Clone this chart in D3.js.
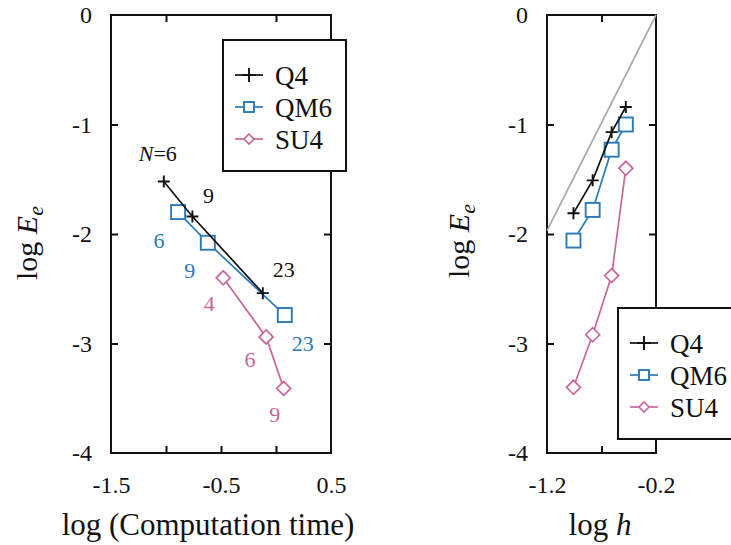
<!DOCTYPE html>
<html>
<head>
<meta charset="utf-8">
<script src="https://cdn.jsdelivr.net/npm/d3@7"></script>
<style>
  html, body { margin: 0; padding: 0; background: #fff; }
  svg { display: block; }
  svg text { font-family: "Liberation Serif", "DejaVu Serif", serif; }
</style>
</head>
<body>
<script>
// ---------------- DATA ----------------
const seriesNames = ["Q4", "QM6", "SU4"];

// Left panel: log (Computation time) vs log Ee
const timeQ4  = [-1.02, -0.76, -0.12];
const errQ4L  = [-1.52, -1.84, -2.54];
const nQ4     = ["6", "9", "23"];
const timeQM6 = [-0.89, -0.62, 0.08];
const errQM6L = [-1.80, -2.08, -2.74];
const nQM6    = ["6", "9", "23"];
const timeSU4 = [-0.48, -0.09, 0.07];
const errSU4L = [-2.40, -2.94, -3.41];
const nSU4    = ["4", "6", "9"];

// Right panel: log h vs log Ee
const logH    = [-0.477, -0.607, -0.781, -0.957];
const errQ4R  = [-0.84, -1.07, -1.51, -1.81];
const errQM6R = [-1.00, -1.23, -1.78, -2.06];
const errSU4R = [-1.40, -2.38, -2.92, -3.40];
const refX    = [-1.2, -0.2];
const refY    = [-1.97, 0.0];

// Axis ticks
const leftXLabels  = [-1.5, -0.5, 0.5];
const leftXMarksB  = [-1, -0.5, 0];
const leftXMarksT  = [-1, 0];
const rightXLabels = [-1.2, -0.2];
const rightXMarks  = [-0.7];
const yLabels      = [0, -1, -2, -3, -4];
const yMarks       = [-1, -2, -3];

// ---------------- STYLE ----------------
const FONT = "Liberation Serif, DejaVu Serif, serif";
const colors = { Q4: "#111111", QM6: "#2a7ab8", SU4: "#c9669c" };

const W = 731, H = 545;
const svg = d3.select("body").append("svg").attr("width", W).attr("height", H);
svg.append("rect").attr("width", W).attr("height", H).attr("fill", "#fff");

const plotTop = 15, plotBottom = 453;
const y = d3.scaleLinear().domain([-4, 0]).range([plotBottom, plotTop]);
const xL = d3.scaleLinear().domain([-1.5, 0.5]).range([111, 331]);
const xR = d3.scaleLinear().domain([-1.2, -0.2]).range([547, 656]);

function marker(g, type, cx, cy, s, color) {
  if (type === "Q4") {
    g.append("path").attr("d", `M${cx - s},${cy}H${cx + s}M${cx},${cy - s}V${cy + s}`)
      .attr("stroke", color).attr("stroke-width", 1.9).attr("fill", "none");
  } else if (type === "QM6") {
    g.append("rect").attr("x", cx - s).attr("y", cy - s).attr("width", 2 * s).attr("height", 2 * s)
      .attr("fill", "#fff").attr("stroke", color).attr("stroke-width", 1.9);
  } else {
    g.append("path").attr("d", `M${cx},${cy - s}L${cx + s},${cy}L${cx},${cy + s}L${cx - s},${cy}Z`)
      .attr("fill", "#fff").attr("stroke", color).attr("stroke-width", 1.7);
  }
}

function axes(x, xLabels, marksB, marksT) {
  const [x0, x1] = x.range();
  const g = svg.append("g");
  const mk = (axis, tx, ty) => {
    const a = g.append("g").attr("transform", `translate(${tx},${ty})`).call(axis);
    a.select(".domain").remove();
    a.selectAll("line").attr("stroke", "#111").attr("stroke-width", 2);
    a.selectAll("text").remove();
  };
  mk(d3.axisBottom(x).tickValues(marksB).tickSize(-7).tickFormat(""), 0, plotBottom);
  mk(d3.axisTop(x).tickValues(marksT).tickSize(-7).tickFormat(""), 0, plotTop);
  mk(d3.axisLeft(y).tickValues(yMarks).tickSize(-7).tickFormat(""), x0, 0);
  mk(d3.axisRight(y).tickValues(yMarks).tickSize(-7).tickFormat(""), x1, 0);
  const xl = g.append("g").attr("transform", `translate(0,${plotBottom})`)
    .call(d3.axisBottom(x).tickValues(xLabels).tickSize(0).tickFormat(d => String(d)));
  xl.select(".domain").remove();
  xl.attr("font-family", FONT).attr("font-size", 24);
  xl.selectAll("text").attr("y", 40).attr("dy", 0).attr("fill", "#111")
    .style("font-family", FONT).style("font-size", "24px");
  const yl = g.append("g").attr("transform", `translate(${x0},0)`)
    .call(d3.axisLeft(y).tickValues(yLabels).tickSize(0).tickPadding(19).tickFormat(d => String(d)));
  yl.select(".domain").remove();
  yl.attr("font-family", FONT).attr("font-size", 24);
  yl.selectAll("text").attr("fill", "#111")
    .style("font-family", FONT).style("font-size", "24px");
  g.append("rect").attr("x", x0).attr("y", plotTop).attr("width", x1 - x0).attr("height", plotBottom - plotTop)
    .attr("fill", "none").attr("stroke", "#111").attr("stroke-width", 2);
}

function yTitle(cx, cy) {
  const t = svg.append("text").attr("transform", `translate(${cx},${cy}) rotate(-90)`)
    .attr("text-anchor", "middle").attr("font-size", 30).attr("fill", "#111");
  t.append("tspan").text("log ");
  t.append("tspan").attr("font-style", "italic").text("E");
  t.append("tspan").attr("font-style", "italic").attr("font-size", 22).attr("dy", 6).text("e");
}

function series(x, xs, ys, name, size) {
  const g = svg.append("g");
  const line = d3.line().x(d => x(d[0])).y(d => y(d[1]));
  const pts = xs.map((v, i) => [v, ys[i]]);
  g.append("path").attr("d", line(pts)).attr("fill", "none")
    .attr("stroke", colors[name]).attr("stroke-width", 1.7);
  pts.forEach(p => marker(g, name, x(p[0]), y(p[1]), size, colors[name]));
  return pts;
}

function legend(bx, by) {
  const g = svg.append("g").attr("transform", `translate(${bx},${by})`);
  g.append("rect").attr("width", 123).attr("height", 131).attr("fill", "#fff")
    .attr("stroke", "#111").attr("stroke-width", 2);
  seriesNames.forEach((n, i) => {
    const yy = 35 + i * 32;
    g.append("line").attr("x1", 12).attr("x2", 40).attr("y1", yy).attr("y2", yy)
      .attr("stroke", colors[n]).attr("stroke-width", 1.7);
    marker(g, n, 26, yy, n === "Q4" ? 7 : 5, colors[n]);
    g.append("text").attr("x", 52).attr("y", yy).attr("dy", "0.36em")
      .attr("font-size", 27).attr("fill", "#111").text(n);
  });
}

// ---------------- LEFT PANEL ----------------
axes(xL, leftXLabels, leftXMarksB, leftXMarksT);
series(xL, timeSU4, errSU4L, "SU4", 7);
series(xL, timeQM6, errQM6L, "QM6", 7);
series(xL, timeQ4, errQ4L, "Q4", 6);

const labelSets = [
  { xs: timeQ4,  ys: errQ4L,  labels: nQ4,  color: colors.Q4,  off: [[-6, -20], [16, -13], [21, -16]] },
  { xs: timeQM6, ys: errQM6L, labels: nQM6, color: colors.QM6, off: [[-19, 36], [-18, 35], [18, 36]] },
  { xs: timeSU4, ys: errSU4L, labels: nSU4, color: colors.SU4, off: [[-14, 33], [-16, 30], [-9, 34]] }
];
labelSets.forEach((s, si) => {
  s.labels.forEach((lab, i) => {
    const t = svg.append("text")
      .attr("x", xL(s.xs[i]) + s.off[i][0]).attr("y", y(s.ys[i]) + s.off[i][1])
      .attr("text-anchor", "middle").attr("font-size", 22).attr("fill", s.color);
    if (si === 0 && i === 0) {
      t.append("tspan").attr("font-style", "italic").text("N");
      t.append("tspan").text("=" + lab);
    } else {
      t.text(lab);
    }
  });
});

legend(223, 40);
yTitle(37, 243);
svg.append("text").attr("x", 208).attr("y", 535).attr("text-anchor", "middle")
  .attr("font-size", 31).attr("fill", "#111").text("log (Computation time)");

// ---------------- RIGHT PANEL ----------------
axes(xR, rightXLabels, rightXMarks, rightXMarks);
svg.append("path")
  .attr("d", d3.line().x(d => xR(d[0])).y(d => y(d[1]))(refX.map((v, i) => [v, refY[i]])))
  .attr("stroke", "#aaaaaa").attr("stroke-width", 1.7).attr("fill", "none");
series(xR, logH, errSU4R, "SU4", 7);
series(xR, logH, errQM6R, "QM6", 7);
series(xR, logH, errQ4R, "Q4", 6);

legend(618, 308);
yTitle(469, 241);
const xt = svg.append("text").attr("x", 600).attr("y", 535).attr("text-anchor", "middle")
  .attr("font-size", 31).attr("fill", "#111");
xt.append("tspan").text("log ");
xt.append("tspan").attr("font-style", "italic").text("h");
</script>
</body>
</html>
